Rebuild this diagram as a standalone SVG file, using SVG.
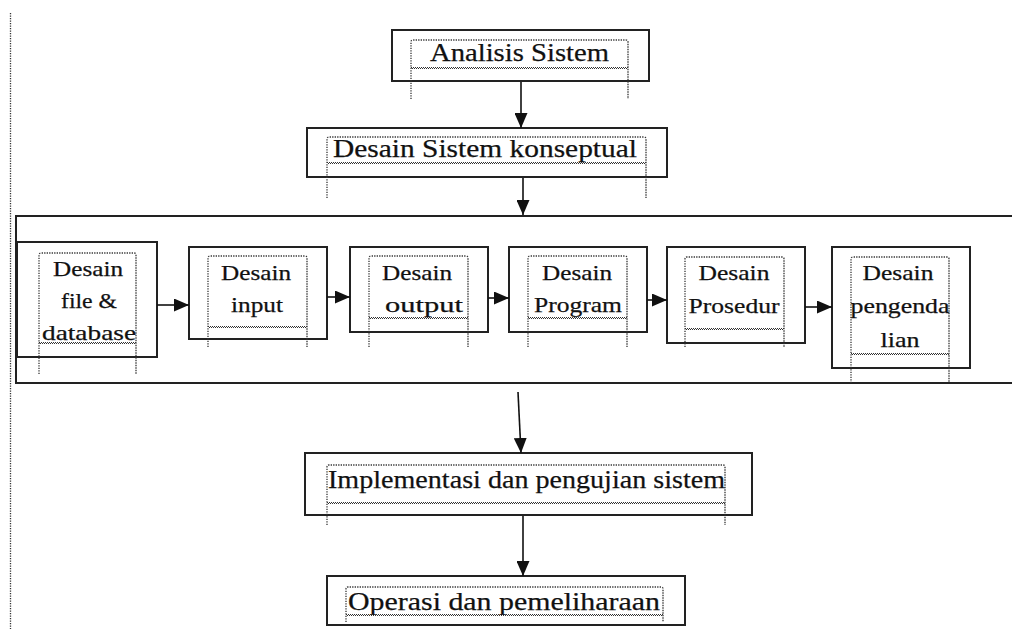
<svg xmlns="http://www.w3.org/2000/svg" width="1012" height="629" viewBox="0 0 1012 629">
<style>
.box{fill:#fff;stroke:#222;stroke-width:2}
.frame{fill:none;stroke:#333;stroke-width:1.3;stroke-dasharray:1.3 1.2}
.wave{fill:none;stroke:#333;stroke-width:1.1;stroke-dasharray:1 1}
.conn{fill:none;stroke:#111;stroke-width:1.6}
.lbl{font-family:"Liberation Serif","Times New Roman","DejaVu Serif",serif;font-size:26px;fill:#111;stroke:#111;stroke-width:0.25;text-anchor:middle}
.sm{font-family:"Liberation Serif","Times New Roman","DejaVu Serif",serif;font-size:22px;fill:#111;stroke:#111;stroke-width:0.25;text-anchor:middle}
</style>
<defs>
<marker id="ah" viewBox="0 0 15 13" refX="15" refY="6.5" markerWidth="15" markerHeight="13" markerUnits="userSpaceOnUse" orient="auto">
<path d="M0,0 L15,6.5 L0,13 z" fill="#111"/>
</marker>
<clipPath id="clipOp"><rect x="330" y="580" width="340" height="35"/></clipPath>
</defs>
<rect width="1012" height="629" fill="#fff"/>
<line x1="10.5" y1="13" x2="10.5" y2="629" stroke="#333" stroke-width="1.3" stroke-dasharray="1.3 1.2"/>
<rect id="container" x="16" y="216" width="1010" height="167" class="box"/>

<g id="analisis">
<rect x="392" y="30" width="257" height="51" class="box"/>
<path class="frame" d="M411,99 V42 Q411,40 413,40 H626 Q628,40 628,42 V99"/>
<path class="wave" d="M411,67.5 H628 M412,68.5 H628"/>
<text class="lbl" x="519.5" y="61" textLength="179" lengthAdjust="spacingAndGlyphs">Analisis Sistem</text>
</g>

<g id="konseptual">
<rect x="307" y="128" width="360" height="49" class="box"/>
<path class="frame" d="M327,198 V139 Q327,137 329,137 H644 Q646,137 646,139 V198"/>
<path class="wave" d="M327,162.5 H646 M328,163.5 H646"/>
<text class="lbl" x="485" y="157" textLength="304" lengthAdjust="spacingAndGlyphs">Desain Sistem konseptual</text>
</g>

<g id="file-database">
<rect x="17" y="242" width="140" height="115" class="box"/>
<path class="frame" d="M39,374 V255 Q39,253 41,253 H134 Q136,253 136,255 V374"/>
<path class="wave" d="M39,342.5 H136 M40,343.5 H136"/>
<text class="sm" x="88" y="276" textLength="70" lengthAdjust="spacingAndGlyphs">Desain</text>
<text class="sm" x="89" y="308" textLength="56" lengthAdjust="spacingAndGlyphs">file &amp;</text>
<text class="sm" x="89" y="340" textLength="94" lengthAdjust="spacingAndGlyphs">database</text>
</g>

<g id="input">
<rect x="189" y="247" width="138" height="92" class="box"/>
<path class="frame" d="M208,347 V258 Q208,256 210,256 H305 Q307,256 307,258 V347"/>
<path class="wave" d="M208,326.5 H307 M209,327.5 H307"/>
<text class="sm" x="256" y="280" textLength="70" lengthAdjust="spacingAndGlyphs">Desain</text>
<text class="sm" x="257" y="312" textLength="52" lengthAdjust="spacingAndGlyphs">input</text>
</g>

<g id="output">
<rect x="350" y="247" width="138" height="85" class="box"/>
<path class="frame" d="M369,347 V258 Q369,256 371,256 H466 Q468,256 468,258 V347"/>
<path class="wave" d="M369,317.5 H468 M370,318.5 H468"/>
<text class="sm" x="417" y="280" textLength="70" lengthAdjust="spacingAndGlyphs">Desain</text>
<text class="sm" x="424" y="312" textLength="78" lengthAdjust="spacingAndGlyphs">output</text>
</g>

<g id="program">
<rect x="509" y="247" width="138" height="85" class="box"/>
<path class="frame" d="M528,347 V258 Q528,256 530,256 H625 Q627,256 627,258 V347"/>
<path class="wave" d="M528,317.5 H627 M529,318.5 H627"/>
<text class="sm" x="577" y="280" textLength="70" lengthAdjust="spacingAndGlyphs">Desain</text>
<text class="sm" x="578" y="312" textLength="88" lengthAdjust="spacingAndGlyphs">Program</text>
</g>

<g id="prosedur">
<rect x="667" y="247" width="138" height="96" class="box"/>
<path class="frame" d="M685,347 V259 Q685,257 687,257 H782 Q784,257 784,259 V347"/>
<path class="wave" d="M685,328.5 H784 M686,329.5 H784"/>
<text class="sm" x="734" y="280" textLength="71" lengthAdjust="spacingAndGlyphs">Desain</text>
<text class="sm" x="734" y="313" textLength="91" lengthAdjust="spacingAndGlyphs">Prosedur</text>
</g>

<g id="pengendalian">
<rect x="832" y="247" width="138" height="121" class="box"/>
<path class="frame" d="M851,383 V259 Q851,257 853,257 H947 Q949,257 949,259 V383"/>
<path class="wave" d="M851,353.5 H949 M852,354.5 H949"/>
<text class="sm" x="898" y="280" textLength="71" lengthAdjust="spacingAndGlyphs">Desain</text>
<text class="sm" x="900" y="313" textLength="99" lengthAdjust="spacingAndGlyphs">pengenda</text>
<text class="sm" x="900" y="347" textLength="39" lengthAdjust="spacingAndGlyphs">lian</text>
</g>

<g id="implementasi">
<rect x="305" y="453" width="447" height="62" class="box"/>
<path class="frame" d="M327,525 V467 Q327,465 329,465 H723 Q725,465 725,467 V525"/>
<path class="wave" d="M327,502.5 H725 M328,503.5 H725"/>
<text class="lbl" x="526.5" y="488" textLength="397" lengthAdjust="spacingAndGlyphs">Implementasi dan pengujian sistem</text>
</g>

<g id="operasi">
<rect x="327" y="576" width="358" height="49" class="box"/>
<path class="frame" d="M346,622 V589 Q346,587 348,587 H661 Q663,587 663,589 V622"/>
<text class="lbl" x="504" y="610" textLength="312" lengthAdjust="spacingAndGlyphs" clip-path="url(#clipOp)">Operasi dan pemeliharaan</text>
<path class="wave" d="M346,614.5 H663 M347,615.5 H663"/>
</g>

<g id="connectors">
<line class="conn" x1="521" y1="82" x2="521" y2="128" marker-end="url(#ah)"/>
<line class="conn" x1="523" y1="178" x2="523" y2="215" marker-end="url(#ah)"/>
<line class="conn" x1="157" y1="305" x2="189" y2="305" marker-end="url(#ah)"/>
<line class="conn" x1="327" y1="297" x2="350" y2="297" marker-end="url(#ah)"/>
<line class="conn" x1="488" y1="298" x2="509" y2="298" marker-end="url(#ah)"/>
<line class="conn" x1="647" y1="300" x2="667" y2="300" marker-end="url(#ah)"/>
<line class="conn" x1="805" y1="307" x2="832" y2="307" marker-end="url(#ah)"/>
<line class="conn" x1="518" y1="392" x2="521" y2="453" marker-end="url(#ah)"/>
<line class="conn" x1="523" y1="516" x2="523" y2="576" marker-end="url(#ah)"/>
</g>
</svg>
